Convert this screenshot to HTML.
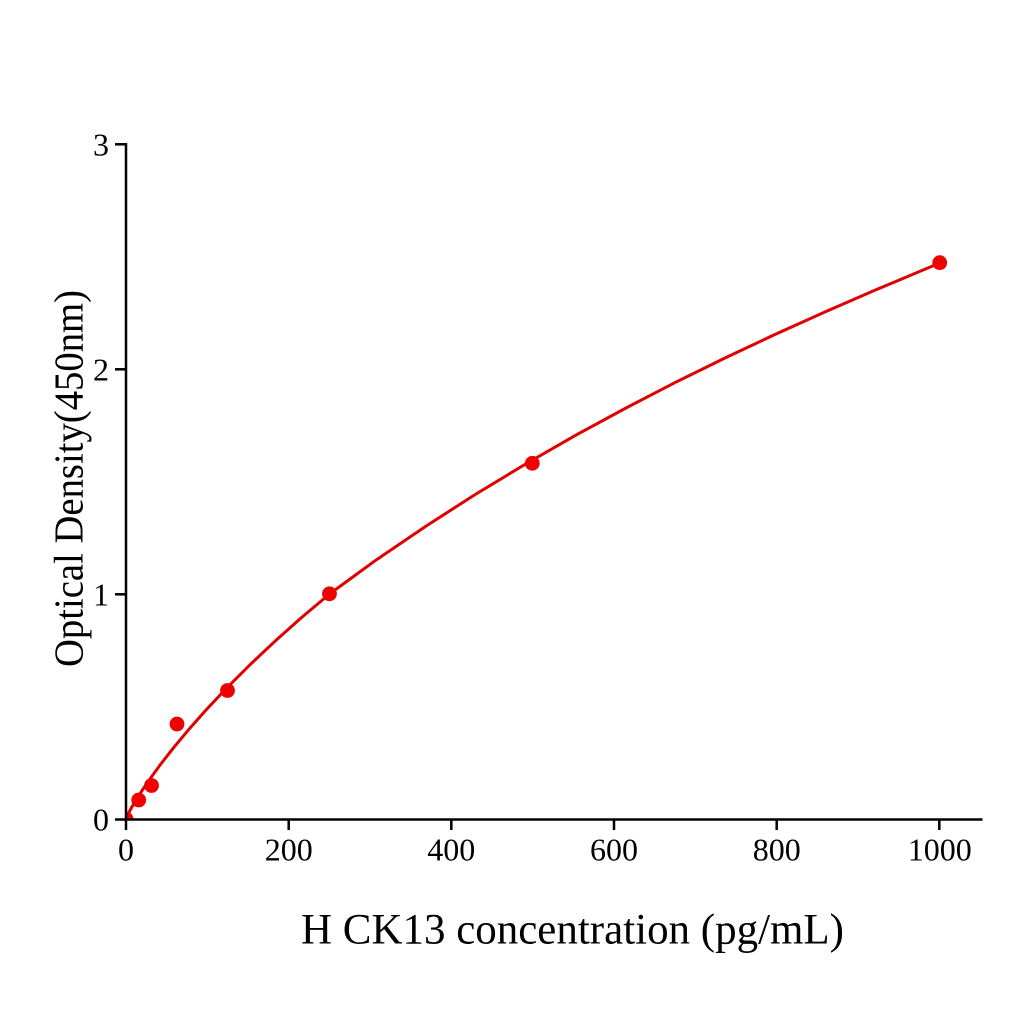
<!DOCTYPE html>
<html>
<head>
<meta charset="utf-8">
<style>
html,body{margin:0;padding:0;background:#fff;}
svg{display:block;}
text{font-family:"Liberation Serif","Times New Roman",serif;fill:#000;}
</style>
</head>
<body>
<svg width="1024" height="1024" viewBox="0 0 1024 1024" xmlns="http://www.w3.org/2000/svg">
<rect width="1024" height="1024" fill="#fff"/>
<defs>
<clipPath id="plot"><rect x="126" y="100" width="880" height="719.5"/></clipPath>
</defs>

<!-- curve -->
<polyline fill="none" stroke="#e00000" stroke-width="3" stroke-linejoin="round" stroke-linecap="round"
points="126,819 128,814.3 131,808.5 136,800 143,789.1 151,777.5 161,763.8 174,747.2 188,730.4 206,710 227,687.7 251,663.8 276,640.3 301,618 329.5,594 376,560.1 426,526.1 476,494 526,463.8 576,435.1 626,408 676,382.1 726,357.5 776,334 826,311.5 876,289.8 926,268.8 940,263"/>

<!-- data points -->
<g fill="#f00000">
<circle cx="126" cy="819" r="7.4" clip-path="url(#plot)"/>
<circle cx="138.7" cy="800" r="7.4"/>
<circle cx="151.5" cy="785.5" r="7.4"/>
<circle cx="177" cy="724" r="7.4"/>
<circle cx="227.5" cy="690.5" r="7.4"/>
<circle cx="329.5" cy="593.8" r="7.4"/>
<circle cx="532.3" cy="463.3" r="7.4"/>
<circle cx="939.7" cy="262.7" r="7.4"/>
</g>

<!-- axes -->
<g stroke="#000" stroke-width="2.5" fill="none">
<line x1="126" y1="143" x2="126" y2="830"/>
<line x1="115" y1="819.5" x2="982.5" y2="819.5"/>
<!-- y ticks -->
<line x1="115" y1="144.3" x2="126" y2="144.3"/>
<line x1="115" y1="369.3" x2="126" y2="369.3"/>
<line x1="115" y1="594.3" x2="126" y2="594.3"/>
<!-- x ticks -->
<line x1="288.7" y1="819.5" x2="288.7" y2="830"/>
<line x1="451.3" y1="819.5" x2="451.3" y2="830"/>
<line x1="614" y1="819.5" x2="614" y2="830"/>
<line x1="776.7" y1="819.5" x2="776.7" y2="830"/>
<line x1="939.3" y1="819.5" x2="939.3" y2="830"/>
</g>

<!-- y tick labels -->
<g font-size="32" text-anchor="end">
<text x="109" y="155.5">3</text>
<text x="109" y="380.5">2</text>
<text x="109" y="605.5">1</text>
<text x="109" y="830.5">0</text>
</g>

<!-- x tick labels -->
<g font-size="32" text-anchor="middle">
<text x="126" y="860.5">0</text>
<text x="288.7" y="860.5">200</text>
<text x="451.3" y="860.5">400</text>
<text x="614" y="860.5">600</text>
<text x="776.7" y="860.5">800</text>
<text x="939.8" y="860.5">1000</text>
</g>

<!-- axis titles -->
<text x="301" y="943.5" font-size="43" textLength="543" lengthAdjust="spacingAndGlyphs">H CK13 concentration (pg/mL)</text>
<text transform="translate(82.5,478.5) rotate(-90)" x="0" y="0" font-size="41" text-anchor="middle" textLength="377" lengthAdjust="spacingAndGlyphs">Optical Density(450nm)</text>
</svg>
</body>
</html>
